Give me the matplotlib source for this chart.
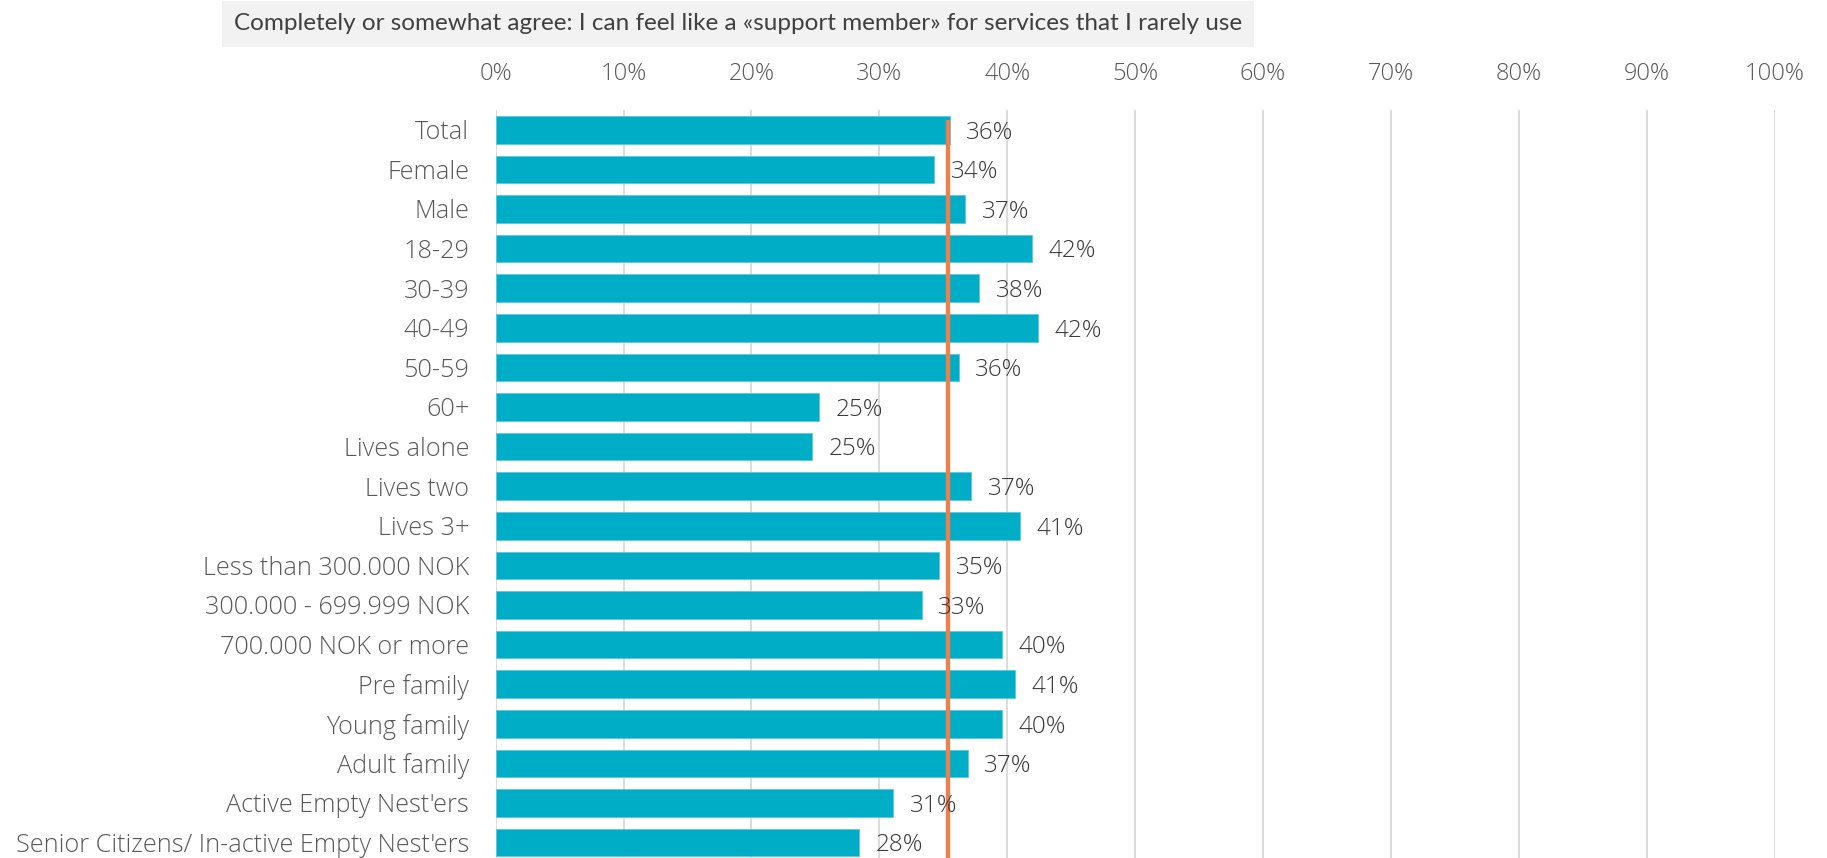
import numpy as np
import matplotlib.pyplot as plt
from matplotlib.ticker import FuncFormatter

groups = ["Total", "Female", "Male", "18-29", "30-39", "40-49", "50-59", "60+",
          "Lives alone", "Lives two", "Lives 3+", "Less than 300.000 NOK",
          "300.000 - 699.999 NOK", "700.000 NOK or more", "Pre family",
          "Young family", "Adult family", "Active Empty Nest'ers",
          "Senior Citizens/ In-active Empty Nest'ers"]
# share that completely or somewhat agree, in percent
agree = [35.5, 34.3, 36.7, 41.9, 37.8, 42.4, 36.2, 25.3, 24.7, 37.2, 41.0,
         34.7, 33.3, 39.6, 40.6, 39.6, 36.9, 31.1, 28.4]
total_line = 35.4
title = "Completely or somewhat agree: I can feel like a «support member» for services that I rarely use"

bar_col = "#00ADC6"
line_col = "#E8804F"
txt_col = "#595959"

W, H = 1827, 858
fig = plt.figure(figsize=(W / 100, H / 100), dpi=100)
ax = fig.add_axes([495.6 / W, 0, 1279 / W, (858 - 110) / H])

y = np.arange(len(groups))
ax.barh(y, agree, height=0.7, color=bar_col, edgecolor="#5CC8DA", linewidth=0.6, zorder=2)
ax.vlines(total_line, -0.25, 19, color=line_col, linewidth=3.2, zorder=3)

for yi, v in zip(y, agree):
    ax.annotate(f"{v:.0f}%", (v, yi), xytext=(12, -2), textcoords="offset points",
                va="center", ha="left", fontsize=17.5, color="#3A3A3A",
                family="Open Sans", fontweight="light", zorder=4)

ax.set_xlim(0, 100)
ax.set_ylim(18.39, -0.5)
ax.set_xticks(np.arange(0, 101, 10))
ax.xaxis.set_major_formatter(FuncFormatter(lambda v, p: f"{v:.0f}%"))
ax.xaxis.tick_top()
ax.tick_params(axis="x", length=0, pad=17, labelsize=17, labelcolor=txt_col)
ax.set_yticks(y)
ax.set_yticklabels(groups)
ax.tick_params(axis="y", length=0, pad=19, labelsize=18.2, labelcolor=txt_col)
for lab in ax.get_xticklabels() + ax.get_yticklabels():
    lab.set_family("Open Sans")
    lab.set_fontweight("light")
ax.grid(axis="x", color="#D9D9D9", linewidth=1.3, zorder=0)
ax.set_axisbelow(True)
for s in ax.spines.values():
    s.set_visible(False)

fig.text(234 / W, 1 - 24 / H, title, fontsize=17.5, color="#404040", va="center",
         ha="left", family="Lato",
         bbox=dict(boxstyle="square,pad=0.5", facecolor="#F2F2F2", edgecolor="none"))

fig.savefig("out.png", dpi=100)
